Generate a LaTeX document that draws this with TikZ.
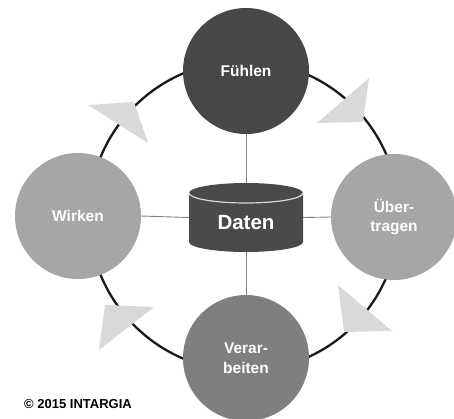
\documentclass[tikz,border=0pt]{standalone}
\usepackage{fontspec}
\setmainfont{Liberation Sans}
\definecolor{cdark}{HTML}{474747}
\definecolor{cmid}{HTML}{7F7F7F}
\definecolor{clight}{HTML}{A6A6A6}
\definecolor{ctri}{HTML}{D9D9D9}
\definecolor{ccyl}{HTML}{4A4A4A}
\begin{document}
\begin{tikzpicture}[x=1pt,y=-1pt,
  phase/.style={circle, inner sep=0pt, minimum size=126pt, text=white, align=center,
    font=\fontsize{15.5}{19.5}\selectfont\bfseries},
  spoke/.style={draw=cmid, line width=0.9pt},
  ring/.style={draw=black!90, line width=2.3pt},
  tri/.style={fill=ctri}]
\useasboundingbox (0,0) rectangle (454,418);
% ring
\draw[ring] (244,216) circle[radius=155];
% arrow triangles
\fill[tri] (88,105) -- (134,102) -- (148,143) -- cycle;
\fill[tri] (369,78) -- (317,123) -- (363,122) -- cycle;
\fill[tri] (105,305) -- (154,307) -- (99,350) -- cycle;
\fill[tri] (338,285) -- (392,331) -- (344,332) -- cycle;
% phases
\node[phase, fill=cdark] (fuehlen) at (246,71) {Fühlen};
\node[phase, fill=clight] (uebertragen) at (394,217) {Über-\\tragen};
\node[phase, fill=clight] (wirken) at (78,216) {Wirken};
\node[phase, fill=cmid] (verarbeiten) at (246,358) {Verar-\\beiten};
% data store
\node[rectangle, inner sep=0pt, minimum width=114pt, minimum height=69pt] (daten) at (246,217.5) {};
\fill[ccyl] (189,193) -- (189,242) arc[start angle=180, end angle=360, x radius=57, y radius=-10]
  -- (303,193) arc[start angle=0, end angle=180, x radius=57, y radius=-10] -- cycle;
\draw[ctri, line width=1.2pt] (189,193) arc[start angle=180, end angle=360, x radius=57, y radius=-10];
\node[text=white, font=\fontsize{20.5}{24}\selectfont\bfseries] (datenlabel) at (246,223) {Daten};
% spokes
\draw[spoke] (daten.north) -- (fuehlen.south);
\draw[spoke] (daten.south) -- (verarbeiten.north);
\draw[spoke] (daten.west) -- (wirken.east);
\draw[spoke] (daten.east) -- (uebertragen.west);
% copyright
\node[anchor=west, inner sep=0pt, font=\fontsize{13}{15}\selectfont\bfseries] (copy) at (24,404) {© 2015 INTARGIA};
\end{tikzpicture}
\end{document}
